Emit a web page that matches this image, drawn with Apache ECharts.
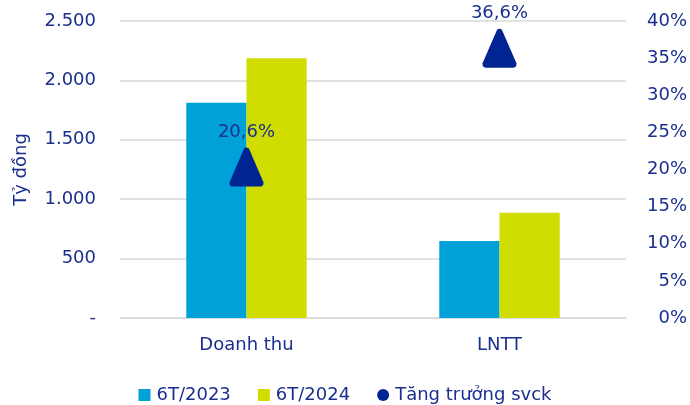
<!DOCTYPE html>
<html>
<head>
<meta charset="utf-8">
<script src="https://cdn.jsdelivr.net/npm/echarts@6/dist/echarts.min.js"></script>
<style>
  html, body { margin: 0; padding: 0; background: #fff; }
  #chart { width: 690px; height: 405px; }
</style>
</head>
<body>
<div id="chart"></div>
<script>
// du lieu
const categories = ['Doanh thu', 'LNTT']
const seriesNames = ['6T/2023', '6T/2024', 'Tăng trưởng svck']
const values2023 = [1812, 648]
const values2024 = [2186, 886]
const growth = [20.6, 36.6] // %

const navy = '#1b2f8e'
const fontFamily = '"DejaVu Sans", sans-serif'
// tam giac bo goc
const triPath = 'path://M43 5Q50 0 57 5L99 89Q100 100 90 100L10 100Q0 100 1 89Z'

const chart = echarts.init(document.getElementById('chart'))

const option = {
  textStyle: { fontFamily: fontFamily, color: navy },
  animation: false,
  grid: { left: 120, right: 63, top: 21, bottom: 87 },
  legend: {
    top: 381,
    left: 'center',
    itemWidth: 12,
    itemHeight: 12,
    itemGap: 27,
    textStyle: { color: navy, fontSize: 18, fontFamily: fontFamily, padding: [0, 0, 0, 1] },
    data: [
      { name: seriesNames[0], icon: 'rect' },
      { name: seriesNames[1], icon: 'rect' },
      { name: seriesNames[2], icon: 'circle', itemStyle: { opacity: 1 } }
    ]
  },
  xAxis: {
    type: 'category',
    data: categories,
    axisTick: { show: false },
    axisLine: { lineStyle: { color: '#d9d9d9', width: 1.5 } },
    axisLabel: { color: navy, fontSize: 18, margin: 18 }
  },
  yAxis: [
    {
      type: 'value',
      min: 0,
      max: 2500,
      interval: 500,
      name: 'Tỷ đồng',
      nameLocation: 'middle',
      nameRotate: 90,
      nameGap: 90,
      nameTextStyle: { color: navy, fontSize: 18 },
      splitLine: { lineStyle: { color: '#d9d9d9', width: 1.5 } },
      axisLabel: {
        color: navy,
        fontSize: 18,
        margin: 24,
        formatter: v => (v === 0 ? '-' : v.toLocaleString('de-DE'))
      }
    },
    {
      type: 'value',
      min: 0,
      max: 40,
      interval: 5,
      splitLine: { show: false },
      axisLabel: {
        color: navy,
        fontSize: 18,
        align: 'right',
        margin: 61,
        formatter: v => v + '%'
      }
    }
  ],
  series: [
    {
      name: seriesNames[0],
      type: 'bar',
      data: values2023,
      barWidth: '23.8%',
      barGap: '0%',
      itemStyle: { color: '#00a1d9' }
    },
    {
      name: seriesNames[1],
      type: 'bar',
      data: values2024,
      barWidth: '23.8%',
      itemStyle: { color: '#d1dc00' }
    },
    {
      name: seriesNames[2],
      type: 'scatter',
      yAxisIndex: 1,
      data: growth,
      symbol: triPath,
      symbolSize: [34, 39],
      symbolOffset: [0, 2],
      itemStyle: { color: '#002592', opacity: 1 },
      label: {
        show: true,
        position: 'top',
        distance: 6,
        color: navy,
        fontSize: 18,
        formatter: p => p.value.toFixed(1).replace('.', ',') + '%'
      }
    }
  ]
}

chart.setOption(option)
</script>
</body>
</html>
